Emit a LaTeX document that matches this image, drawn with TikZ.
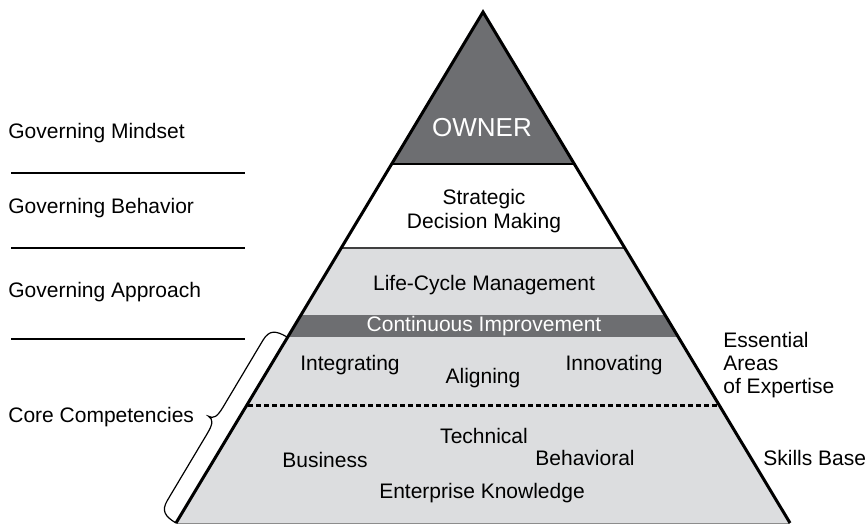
\documentclass[tikz,border=0pt]{standalone}
\usepackage{fontspec}
\setmainfont{Liberation Sans}
\usepackage{xcolor}
\usetikzlibrary{positioning}
\definecolor{darkband}{HTML}{6D6E71}
\definecolor{lightband}{HTML}{DCDDDF}

\begin{document}
\begin{tikzpicture}[
        x=0.5pt,y=0.5pt,
        txt/.style={font=\fontsize{10.5}{12}\selectfont,inner sep=0pt,align=center},
        side/.style={font=\fontsize{10.5}{11.3}\selectfont,inner sep=0pt,anchor=west,align=left},
        sepline/.style={line width=0.75pt},
        outline/.style={line width=1.5pt,line join=miter}
    ]
        \useasboundingbox (0,0) rectangle (865,526);

        \coordinate (apex) at (483,514);
        \coordinate (bl) at (176,3);
        \coordinate (br) at (790,3);

        \begin{scope}
            \clip (apex) -- (bl) -- (br) -- cycle;
            \fill[lightband] (0,0) rectangle (865,278);
            \fill[white] (0,278) rectangle (865,362);
            \fill[darkband] (0,362) rectangle (865,526);
            \fill[darkband] (0,189) rectangle (865,211);
            \draw[line width=0.8pt] (0,362) -- (865,362);
            \draw[line width=0.6pt,black!75] (0,278) -- (865,278);
            \draw[line width=1.5pt,dash pattern=on 2.5pt off 1.5pt] (0,121) -- (865,121);
        \end{scope}
        \draw[black!45,line width=0.5pt] (bl) -- (br);
        \draw[outline] (bl) -- (apex) -- (br);

        \node[txt,text=white,font=\fontsize{13}{15}\selectfont] (owner) at (482,398) {OWNER};
        \node[txt] (strategic) at (484,315) {Strategic\\Decision Making};
        \node[txt] (lifecycle) at (484,241) {Life-Cycle Management};
        \node[txt,text=white] (improve) at (484,200) {Continuous Improvement};
        \node[txt] (integrating) at (350,161) {Integrating};
        \node[txt] (aligning) at (483,148) {Aligning};
        \node[txt] (innovating) at (614,161) {Innovating};
        \node[txt] (technical) at (484,90) {Technical};
        \node[txt] (business) at (325,66) {Business};
        \node[txt] (behavioral) at (585,68) {Behavioral};
        \node[txt] (enterprise) at (482,33) {Enterprise Knowledge};

        \node[side] (mindset) at (8,393) {Governing Mindset};
        \node[side] (behavior) at (8,318) {Governing Behavior};
        \node[side] (approach) at (8,234) {Governing Approach};
        \node[side] (core) at (8,109) {Core Competencies};
        \draw[sepline] (11,353) -- (245,353);
        \draw[sepline] (11,278) -- (245,278);
        \draw[sepline] (11,187) -- (245,187);

        \node[side] (expertise) at (723,161) {Essential\\Areas\\of Expertise};
        \node[side] (skills) at (763,68) {Skills Base};

        \begin{scope}[shift={(bl)},rotate=59.17]
            \draw[line width=0.6pt] (0,0) .. controls (0,13) and (3,19) .. (15,19)
                -- (93,19) .. controls (104,19) and (108.3,21) .. (108.3,27)
                .. controls (108.3,21) and (112.6,19) .. (123.6,19)
                -- (201.6,19) .. controls (213.6,19) and (216.6,13) .. (216.6,0);
        \end{scope}
    \end{tikzpicture}
\end{document}
